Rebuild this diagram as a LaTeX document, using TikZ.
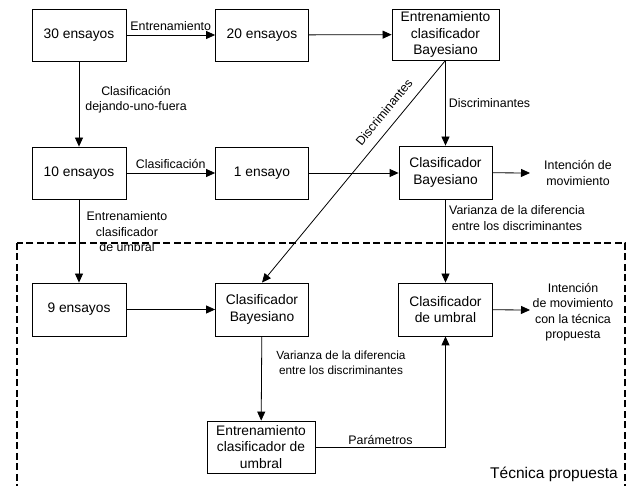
\documentclass[tikz,border=0pt]{standalone}
\usepackage{fontspec}
\setmainfont{Liberation Sans}
\usetikzlibrary{arrows.meta,calc}
\begin{document}
\begin{tikzpicture}[x=1pt,y=-1pt,
  box/.style={draw,line width=0.8pt,align=center,inner sep=0pt,font=\fontsize{13.8}{16.5}\selectfont},
  lbl/.style={align=center,inner sep=0pt,font=\fontsize{12.4}{15.5}\selectfont},
  arr/.style={line width=0.8pt,-{Triangle[length=9pt,width=8pt]}},
  ln/.style={line width=0.8pt}]
\useasboundingbox (0,0) rectangle (630,486);
\begin{scope}
\clip (0,0) rectangle (630,486);
\draw[line width=1.5pt,dash pattern=on 7pt off 3.5pt] (17,243) rectangle (625,520);
\end{scope}
% boxes
\node[box,minimum width=94pt,minimum height=52pt] (e30) at (79,35) {30 ensayos};
\node[box,minimum width=93pt,minimum height=52pt] (e20) at (262,35) {20 ensayos};
\node[box,minimum width=107pt,minimum height=51pt] (eb) at (445.5,34.5) {Entrenamiento\\clasificador\\Bayesiano};
\node[box,minimum width=94pt,minimum height=52pt] (e10) at (79,173) {10 ensayos};
\node[box,minimum width=93pt,minimum height=52pt] (e1) at (262,173) {1 ensayo};
\node[box,minimum width=93pt,minimum height=53pt] (cb1) at (445.5,172.5) {Clasificador\\Bayesiano};
\node[box,minimum width=94pt,minimum height=53pt] (e9) at (79,309.5) {9 ensayos};
\node[box,minimum width=93pt,minimum height=53pt] (cb2) at (262,309.5) {Clasificador\\Bayesiano};
\node[box,minimum width=94pt,minimum height=53pt] (cu) at (445.5,309.5) {Clasificador\\de umbral};
\node[box,minimum width=108pt,minimum height=52pt] (ecu) at (261,447) {Entrenamiento\\clasificador de\\umbral};
% free-text nodes
\node[lbl] (im1) at (578,173) {Intención de\\movimiento};
\node[lbl] (im2) at (573,312) {Intención\\de movimiento\\con la técnica\\propuesta};
\coordinate (t1) at (530,173);
\coordinate (t2) at (530,310);
% connectors
\draw[arr] (e30) -- node[lbl,above=4pt] {Entrenamiento} (e20);
\draw[arr] (e20) -- (eb);
\draw[arr] (e30) -- node[lbl,right=6pt,pos=0.45] {Clasificación\\dejando-uno-fuera} (e10);
\draw[arr] (e10) -- node[lbl,above=4pt] {Clasificación} (e1);
\draw[arr] (e1.east) -- (e1.east -| cb1.west);
\draw[arr] (eb) -- node[lbl,right=3pt,pos=0.5] {Discriminantes} (cb1);
\draw[arr] (eb.south) -- (cb2.north);
\node[lbl,rotate=50.5] (dl) at (384,112) {Discriminantes};
\draw[arr] (cb1) -- (t1);
\draw[arr] (cb1) -- (cu);
\node[lbl] (v1) at (517,218) {Varianza de la diferencia\\entre los discriminantes};
\draw[arr] (e10) -- (e9);
\node[lbl] (ecl) at (127,232) {Entrenamiento\\clasificador\\de umbral};
\draw[arr] (e9) -- (cb2);
\draw[arr] (cb2) -- (ecu);
\node[lbl,font=\fontsize{11.8}{14.5}\selectfont] (v2) at (341,363) {Varianza de la diferencia\\entre los discriminantes};
\draw[arr] (ecu.east) -- node[lbl,above=2pt,pos=0.5] {Parámetros} (ecu.east -| cu.south) -- (cu.south);
\draw[arr] (cu) -- (t2);
\node[lbl,font=\fontsize{15.5}{18}\selectfont] (tp) at (554,474) {Técnica propuesta};
\end{tikzpicture}
\end{document}
